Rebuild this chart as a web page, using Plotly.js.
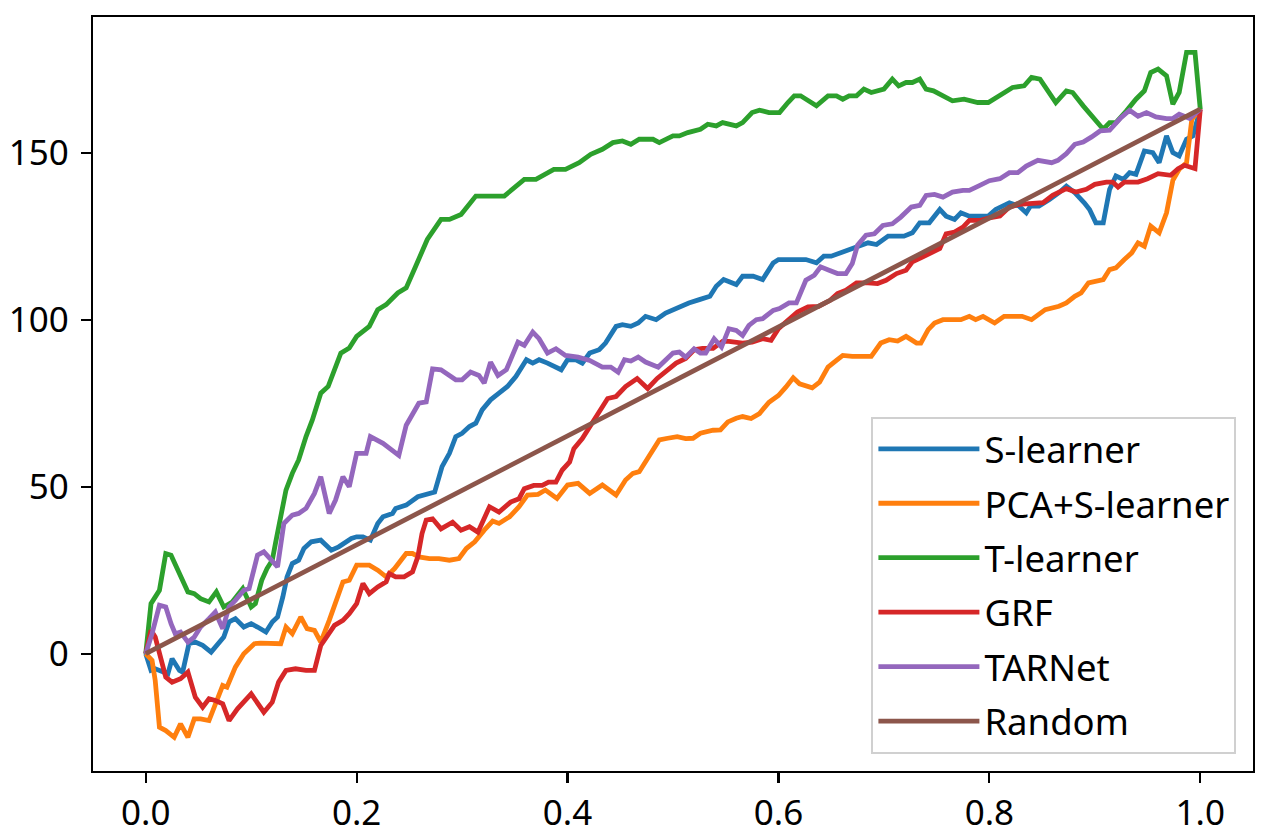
<!DOCTYPE html>
<html>
<head>
<meta charset="utf-8">
<script src="https://cdn.plot.ly/plotly-3.0.1.min.js"></script>
<style>
  html, body { margin: 0; padding: 0; background: #ffffff; }
  #chart { width: 1280px; height: 839px; }
</style>
</head>
<body>
<div id="chart"></div>
<script>
// ---- Data ----
const seriesNames = ["S-learner", "PCA+S-learner", "T-learner", "GRF", "TARNet", "Random"];
const seriesColors = ["#1f77b4", "#ff7f0e", "#2ca02c", "#d62728", "#9467bd", "#8c564b"];

const sLearnerX = [
  0, .005, .009, .014, .021, .025, .032, .035, .041, .047,
  .054, .062, .068, .074, .079, .085, .093, .1, .106, .114,
  .12, .125, .13, .134, .139, .145, .15, .157, .166, .176,
  .183, .188, .195, .2, .206, .213, .22, .225, .234, .237,
  .247, .258, .267, .274, .281, .288, .294, .3, .307, .313,
  .319, .327, .335, .343, .351, .361, .367, .373, .381, .387,
  .394, .4, .408, .414, .421, .43, .436, .446, .452, .46,
  .467, .474, .484, .493, .5, .506, .515, .525, .535, .541,
  .548, .56, .566, .576, .585, .595, .6, .607, .62, .626,
  .636, .643, .65, .658, .666, .677, .685, .693, .704, .712,
  .719, .727, .734, .743, .753, .759, .767, .773, .781, .791,
  .799, .806, .819, .828, .835, .839, .847, .857, .866, .873,
  .881, .89, .895, .901, .908, .914, .92, .927, .933, .939,
  .947, .955, .961, .968, .974, .98, .987, .993, 1.0
];
const sLearnerY = [
  0, -5, -4.5, -5, -6, -1.5, -5, -5.5, 3, 3.5,
  2.5, 0.5, 2.5, 5, 9.5, 10.5, 8, 9, 8, 6.5,
  9.5, 11, 17, 23, 27, 28, 31.5, 33.5, 34, 31,
  32, 33, 34.5, 35, 35, 34, 39, 41, 42, 43.5,
  44.5, 47, 48, 48.4, 56, 60, 65, 66, 68, 69,
  73, 76, 78, 80, 83, 88, 87, 88, 87, 86,
  85, 88, 88, 87, 90, 91, 93, 98, 98.5, 98,
  99, 101, 100, 102, 103, 104, 105, 106, 107, 110,
  112, 110.5, 113, 113, 112, 117, 118, 118, 118, 118,
  117, 119, 119, 120, 121, 122, 123, 122.5, 125, 125,
  125, 126, 129, 129, 133, 131, 130, 132, 131, 131,
  131, 133, 135, 134, 132, 134, 134, 136, 138, 140,
  138, 135, 133, 129, 129, 139, 143, 142, 144, 143.5,
  150.5, 150, 147, 155, 150, 149, 154, 155, 163
];

const pcaX = [
  0, .006, .009, .013, .019, .027, .033, .04, .046, .052,
  .06, .065, .073, .077, .085, .093, .103, .109, .122, .128,
  .133, .139, .147, .153, .16, .166, .174, .187, .193, .2,
  .206, .212, .22, .228, .236, .247, .253, .259, .269, .278,
  .288, .297, .304, .312, .321, .329, .335, .345, .354, .362,
  .372, .379, .39, .4, .41, .421, .433, .446, .455, .462,
  .468, .477, .487, .495, .504, .512, .519, .526, .538, .545,
  .552, .56, .566, .574, .582, .591, .6, .607, .614, .62,
  .632, .639, .647, .655, .661, .67, .68, .688, .697, .705,
  .713, .721, .731, .735, .742, .748, .756, .765, .773, .781,
  .787, .794, .805, .814, .831, .84, .853, .866, .873, .881,
  .887, .894, .901, .908, .914, .92, .928, .935, .941, .947,
  .953, .961, .968, .974, .98, .987, .992, 1.0
];
const pcaY = [
  0, -2, -8, -22, -23, -25, -21, -25, -19.5, -19.5,
  -20, -16, -9.5, -10, -4, 0, 3, 3.2, 3, 3,
  8, 6, 11, 7.5, 7, 3.5, 10, 21.5, 22, 26.5,
  26.5, 26.5, 25, 23, 25.5, 30, 30, 29, 28.5, 28.5,
  28, 28.5, 31.5, 33.5, 37, 39.7, 39, 41, 44, 47.5,
  47.7, 49, 46.5, 50.5, 51, 48, 50.5, 47.5, 52, 54,
  54.5, 59, 64, 64.5, 65, 64.4, 64.5, 66, 66.9, 67,
  69.4, 70.5, 71, 70.4, 71.9, 75.3, 77.3, 79.8, 82.6, 80.8,
  79.6, 81.3, 85.8, 87.8, 89.3, 89, 89, 89, 93, 94,
  93.6, 95, 93, 93, 97, 99, 100, 100, 100, 101,
  100, 101, 99, 101, 101, 100, 103, 104, 105, 107,
  108, 111, 111.5, 112, 115, 115.5, 118, 120, 123, 122,
  128, 126, 132, 141.7, 145, 147, 160, 163
];

const tLearnerX = [
  0, .005, .013, .019, .024, .035, .04, .046, .052, .06,
  .067, .074, .082, .092, .1, .104, .11, .115, .12, .123,
  .128, .133, .139, .145, .152, .158, .166, .173, .185, .193,
  .2, .212, .22, .228, .239, .247, .256, .267, .28, .288,
  .299, .313, .321, .34, .359, .37, .387, .398, .411, .422,
  .433, .443, .452, .46, .468, .481, .487, .5, .506, .514,
  .526, .533, .541, .547, .56, .566, .575, .582, .591, .601,
  .609, .615, .621, .636, .647, .655, .661, .667, .674, .681,
  .688, .7, .708, .714, .721, .727, .734, .74, .747, .755,
  .765, .776, .789, .799, .813, .822, .833, .84, .848, .859,
  .863, .873, .879, .889, .898, .908, .914, .92, .93, .939,
  .947, .953, .96, .968, .974, .98, .987, .995, 1.0
];
const tLearnerY = [
  0, 15, 19, 30, 29.5, 22, 18.5, 18, 16.5, 15.5,
  18.5, 14, 15.5, 19.5, 14, 15, 22, 25.5, 28, 33,
  42, 49, 54, 58, 65, 70, 78, 80, 90, 91.5,
  95, 98, 103, 104.5, 108, 109.5, 116, 124, 130, 130,
  131.5, 137, 137, 137, 142, 142, 145, 145, 147, 149.5,
  151, 153, 153.5, 152.5, 154, 154, 153, 155, 155, 156,
  157, 158.5, 158, 159, 158, 159, 162, 162.7, 162, 162,
  165, 167, 167, 164, 167, 167, 166, 167, 167, 169,
  168, 169, 172, 170, 171, 171, 172, 169, 168.5, 167,
  165.5, 166, 165, 165, 168, 169.5, 170, 172.5, 172, 166.7,
  165, 168.5, 168, 164, 160.5, 157, 159, 159, 162.5, 166,
  168.5, 174, 175, 173, 164.5, 168, 180, 180, 163
];

const grfX = [
  0, .005, .009, .014, .019, .025, .033, .04, .047, .054,
  .06, .066, .073, .079, .087, .1, .106, .112, .12, .126,
  .133, .142, .152, .16, .166, .172, .179, .187, .193, .2,
  .206, .212, .22, .228, .231, .237, .245, .253, .258, .262,
  .266, .272, .28, .291, .299, .307, .315, .326, .335, .346,
  .354, .359, .368, .376, .382, .389, .395, .402, .406, .414,
  .422, .43, .438, .446, .455, .466, .476, .485, .495, .503,
  .512, .52, .528, .538, .547, .553, .566, .575, .585, .593,
  .6, .607, .618, .628, .638, .649, .656, .664, .674, .685,
  .694, .702, .712, .721, .727, .737, .746, .753, .759, .767,
  .775, .781, .791, .8, .81, .819, .828, .838, .851, .86,
  .873, .882, .892, .9, .911, .917, .922, .928, .941, .95,
  .96, .972, .979, .985, .995, 1.0
];
const grfY = [
  0, 7, 5, -1, -7, -8.5, -7.5, -5.5, -13, -16,
  -13.5, -14, -15, -20, -16.5, -12, -15, -17.5, -14.5, -8.5,
  -5, -4.5, -5, -5, 2.5, 5, 8.5, 10, 12, 15,
  21, 18, 20, 21.5, 24, 23, 23, 24.5, 29, 36,
  40, 40.4, 37.4, 39.4, 37, 38, 36.4, 44, 42.4, 45.4,
  46.4, 49.4, 50.4, 50.4, 51.4, 51.4, 55, 57.4, 61.4, 64.4,
  68.4, 72.4, 76.4, 77, 80, 82.4, 79.4, 82.4, 85, 87,
  88.4, 91, 91.4, 91.4, 93.5, 93.5, 93, 93.3, 94.3, 93.8,
  97.3, 99.3, 102.3, 103.8, 104, 105.8, 107.8, 108.8, 111, 111,
  110.8, 111.8, 113.8, 114.8, 117.3, 118.8, 120.3, 121.3, 125.7, 126.2,
  127.7, 129.7, 129.7, 130.5, 131, 133.7, 134.5, 134.7, 135, 137.2,
  139.2, 138.2, 139, 140.5, 141.2, 141.2, 139.7, 141.2, 141.2, 142.2,
  143.7, 143.2, 145.2, 146.2, 145.2, 163
];

const tarnetX = [
  0, .006, .013, .019, .024, .028, .033, .04, .046, .052,
  .06, .066, .073, .079, .085, .093, .098, .106, .112, .119,
  .125, .131, .139, .145, .152, .16, .166, .174, .18, .187,
  .193, .2, .209, .213, .225, .24, .247, .259, .266, .272,
  .28, .294, .3, .308, .316, .321, .327, .334, .342, .353,
  .359, .367, .373, .381, .389, .398, .41, .421, .433, .441,
  .448, .454, .46, .467, .474, .486, .5, .506, .512, .52,
  .526, .531, .539, .546, .553, .56, .566, .572, .579, .585,
  .595, .601, .61, .617, .626, .634, .64, .648, .656, .664,
  .67, .675, .683, .691, .699, .708, .716, .726, .734, .74,
  .748, .756, .765, .775, .781, .791, .8, .81, .819, .827,
  .835, .846, .859, .865, .873, .881, .889, .897, .905, .914,
  .924, .933, .941, .949, .958, .968, .974, .98, .99, 1.0
];
const tarnetY = [
  0, 6, 14.5, 14, 9, 6, 6.5, 3.5, 5, 8,
  10.5, 12.5, 7.5, 14, 16, 19, 19.5, 29.5, 30.5, 28,
  26, 39, 41.5, 42, 43.5, 48, 53, 42, 46, 53,
  50, 60, 60, 65, 63, 59.4, 68.4, 75, 75.4, 85.3,
  85, 82, 82, 84.3, 83.3, 81, 87.3, 83.3, 85, 93.3,
  92.3, 96.3, 94.3, 90, 91.3, 89.3, 88.8, 87.8, 85.8, 85.8,
  84.3, 88, 87.6, 88.8, 87.3, 85.8, 90, 90.3, 88.8, 91.3,
  90, 90, 94.3, 91.8, 97.3, 96.8, 95.3, 98.3, 100, 100.3,
  102.8, 103.3, 105, 105, 111.8, 113.3, 115.8, 114.8, 113.8, 113.8,
  116.8, 122.3, 125.3, 125.7, 128.2, 128.7, 130.7, 133.7, 134.2, 137.2,
  137.5, 136.7, 138.2, 138.7, 138.7, 140.2, 141.6, 142.2, 144, 144,
  146, 147.7, 147, 147.7, 149.7, 152.5, 153.2, 154.7, 156.5, 156.7,
  160.2, 162.7, 160.9, 162, 160.7, 160.2, 160.2, 161.5, 160.2, 163
];

const randomX = [0, 1.0];
const randomY = [0, 163];

const xTickVals = [0, 0.2, 0.4, 0.6, 0.8, 1.0];
const xTickText = ["0.0", "0.2", "0.4", "0.6", "0.8", "1.0"];
const yTickVals = [0, 50, 100, 150];
const yTickText = ["0", "50", "100", "150"];

// ---- Build traces ----
const allX = [sLearnerX, pcaX, tLearnerX, grfX, tarnetX, randomX];
const allY = [sLearnerY, pcaY, tLearnerY, grfY, tarnetY, randomY];

const FONT = "Noto Sans, Open Sans, DejaVu Sans, sans-serif";

const traces = seriesNames.map((name, i) => ({
  type: "scatter",
  mode: "lines",
  name: name,
  legendgroup: "g" + i,
  x: allX[i],
  y: allY[i],
  line: { color: seriesColors[i], width: 4.8 }
}));

const axisCommon = {
  showline: true,
  linecolor: "#000000",
  linewidth: 2.2,
  mirror: true,
  ticks: "outside",
  ticklen: 10,
  tickwidth: 2.2,
  tickcolor: "#000000",
  showgrid: false,
  zeroline: false,
  tickfont: { family: FONT, size: 35, color: "#000000" }
};

const layout = {
  width: 1280,
  height: 839,
  margin: { l: 93, r: 27, t: 17, b: 68, pad: 0 },
  paper_bgcolor: "#ffffff",
  plot_bgcolor: "#ffffff",
  showlegend: true,
  xaxis: Object.assign({}, axisCommon, {
    range: [-0.05, 1.05],
    tickmode: "array",
    tickvals: xTickVals,
    ticktext: xTickText
  }),
  yaxis: Object.assign({}, axisCommon, {
    range: [-35.1, 190.6],
    tickmode: "array",
    tickvals: yTickVals,
    ticktext: yTickText,
    ticklabelstandoff: 5
  }),
  legend: {
    x: 0.9857,
    xanchor: "right",
    y: 0.0231,
    yanchor: "bottom",
    bgcolor: "rgba(255,255,255,0.85)",
    bordercolor: "#d0d0d0",
    borderwidth: 2,
    font: { family: FONT, size: 36.5, color: "#000000" },
    itemwidth: 101,
    tracegroupgap: 4
  }
};

Plotly.newPlot("chart", traces, layout, { displayModeBar: false, staticPlot: true });
</script>
</body>
</html>
